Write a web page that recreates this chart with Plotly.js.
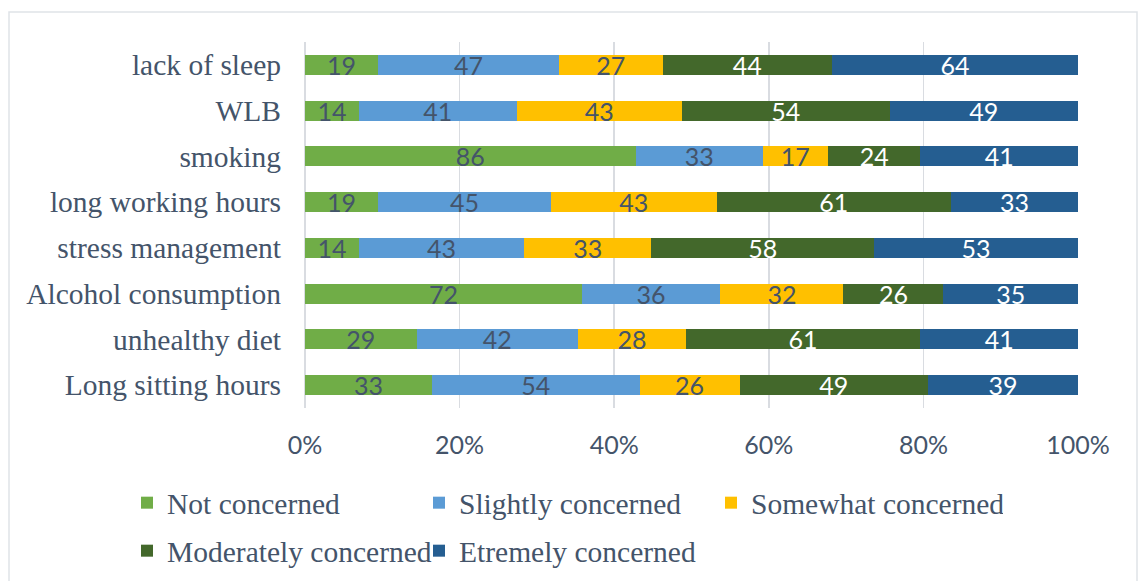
<!DOCTYPE html>
<html>
<head>
<meta charset="utf-8">
<script src="https://cdn.plot.ly/plotly-3.0.1.min.js"></script>
<style>
  html, body { margin: 0; padding: 0; background: #fff; }
  #chart { width: 1139px; height: 581px; }
</style>
</head>
<body>
<div id="chart"></div>
<script>
// Health concerns, counted responses per level (stacked to 100%)
const categories = [
  'lack of sleep', 'WLB', 'smoking', 'long working hours',
  'stress management', 'Alcohol consumption', 'unhealthy diet', 'Long sitting hours'
];
const seriesNames = [
  'Not concerned', 'Slightly concerned', 'Somewhat concerned',
  'Moderately concerned', 'Etremely concerned'
];
const notConcerned        = [19, 14, 86, 19, 14, 72, 29, 33];
const slightlyConcerned   = [47, 41, 33, 45, 43, 36, 42, 54];
const somewhatConcerned   = [27, 43, 17, 43, 33, 32, 28, 26];
const moderatelyConcerned = [44, 54, 24, 61, 58, 26, 61, 49];
const extremelyConcerned  = [64, 49, 41, 33, 53, 35, 41, 39];

const seriesValues = [notConcerned, slightlyConcerned, somewhatConcerned,
                      moderatelyConcerned, extremelyConcerned];
const seriesColors = ['#70AD47', '#5B9BD5', '#FFC000', '#43682B', '#255E91'];
const labelColors  = ['#44546A', '#44546A', '#44546A', '#FFFFFF', '#FFFFFF'];
const legendIds    = ['legend', 'legend', 'legend', 'legend2', 'legend2'];

const textGrey = '#44546A';
const serif = 'Liberation Serif, Times New Roman, serif';
const sans = 'Lato, Open Sans, sans-serif';

const traces = seriesNames.map((name, i) => ({
  type: 'bar',
  orientation: 'h',
  name: name,
  y: categories,
  x: seriesValues[i],
  text: seriesValues[i].map(String),
  texttemplate: '%{text}',
  textposition: 'inside',
  insidetextanchor: 'middle',
  textangle: 0,
  constraintext: 'none',
  insidetextfont: { family: sans, size: 25, color: labelColors[i] },
  marker: { color: seriesColors[i], line: { width: 0 } },
  legend: legendIds[i],
  hoverinfo: 'name+x'
}));

const plotLeft = 305, plotRight = 1078, plotTop = 42, plotBottom = 408;
const pw = plotRight - plotLeft, ph = plotBottom - plotTop;
const px = v => (v - plotLeft) / pw;
const py = v => (plotBottom - v) / ph;

const legendCommon = {
  orientation: 'h',
  xanchor: 'left',
  yanchor: 'middle',
  entrywidth: 247,
  entrywidthmode: 'pixels',
  font: { family: serif, size: 29.5, color: textGrey },
  bgcolor: 'rgba(0,0,0,0)',
  borderwidth: 0,
  traceorder: 'normal'
};

const layout = {
  width: 1139,
  height: 581,
  margin: { l: plotLeft, r: 1139 - plotRight, t: plotTop, b: 581 - plotBottom, pad: 0, autoexpand: false },
  paper_bgcolor: '#ffffff',
  plot_bgcolor: '#ffffff',
  barmode: 'stack',
  barnorm: 'percent',
  bargap: 0.565,
  showlegend: true,
  font: { family: sans, color: textGrey },
  xaxis: {
    range: [0, 100],
    dtick: 20,
    tick0: 0,
    ticksuffix: '%',
    showgrid: true,
    gridcolor: '#D9DCE1',
    gridwidth: 1.5,
    zeroline: true,
    zerolinecolor: '#D9DCE1',
    zerolinewidth: 1.5,
    showline: false,
    ticks: '',
    ticklabelstandoff: 20,
    tickfont: { family: sans, size: 25, color: textGrey },
    fixedrange: true
  },
  yaxis: {
    type: 'category',
    autorange: 'reversed',
    showgrid: false,
    zeroline: false,
    showline: false,
    ticks: '',
    ticklabelstandoff: 23,
    tickfont: { family: serif, size: 29.5, color: textGrey },
    fixedrange: true
  },
  legend: Object.assign({}, legendCommon, { x: px(127), y: py(503) }),
  legend2: Object.assign({}, legendCommon, { x: px(127), y: py(551) }),
  shapes: [{
    type: 'rect', xref: 'paper', yref: 'paper', layer: 'below',
    x0: px(9), x1: px(1137), y0: py(600), y1: py(12),
    line: { color: '#DFE3E8', width: 1.5 },
    fillcolor: 'rgba(0,0,0,0)'
  }]
};

Plotly.newPlot('chart', traces, layout, { displayModeBar: false, staticPlot: true });
</script>
</body>
</html>
